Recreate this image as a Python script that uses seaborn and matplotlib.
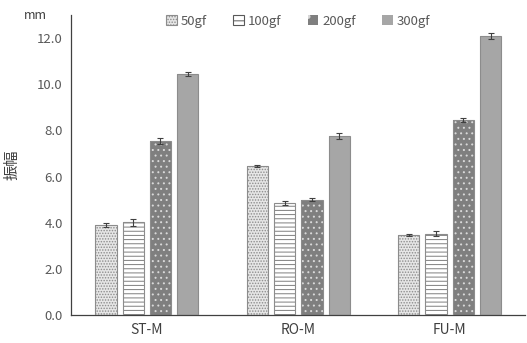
import pandas as pd
import numpy as np
import matplotlib
matplotlib.use('Agg')
import matplotlib.pyplot as plt
import seaborn as sns
from matplotlib.patches import Rectangle

# data
samples = ['ST-M', 'RO-M', 'FU-M']
loads = ['50gf', '100gf', '200gf', '300gf']
amp_50 = [3.90, 6.45, 3.45]
amp_100 = [4.02, 4.85, 3.52]
amp_200 = [7.55, 5.00, 8.45]
amp_300 = [10.45, 7.75, 12.10]
err_50 = [0.08, 0.05, 0.05]
err_100 = [0.15, 0.10, 0.10]
err_200 = [0.12, 0.08, 0.10]
err_300 = [0.10, 0.13, 0.12]

values = [amp_50, amp_100, amp_200, amp_300]
errors = [err_50, err_100, err_200, err_300]
df = pd.DataFrame({
    'sample': samples * 4,
    'load': [l for l in loads for _ in samples],
    'amp': sum(values, []),
    'err': sum(errors, []),
})

sns.set_style('white')
plt.rcParams['font.family'] = ['Noto Sans CJK JP', 'DejaVu Sans']
plt.rcParams['hatch.linewidth'] = 0.7

faces = ['#e6e6e6', '#ffffff', '#7f7f7f', '#a6a6a6']
hatch_cols = ['#8c8c8c', '#7f7f7f', '#d9d9d9', '#a6a6a6']
hatches = ['......', '----', '...', '']

fig = plt.figure(figsize=(5.27, 3.43), dpi=100)
ax = fig.add_axes([0.135, 0.082, 0.862, 0.874])

sns.barplot(data=df, x='sample', y='amp', hue='load', order=samples,
            hue_order=loads, errorbar=None, width=0.72, gap=0.22,
            palette=faces, ax=ax)

# style each bar: hatch + outline, then error bar
bar_groups = list(ax.containers)
for i, cont in enumerate(bar_groups):
    for j, bar in enumerate(cont.patches):
        bar.set_facecolor(faces[i])
        bar.set_hatch(hatches[i])
        bar.set_edgecolor(hatch_cols[i])
        bar.set_linewidth(0)
        x, y = bar.get_x(), bar.get_y()
        w, h = bar.get_width(), bar.get_height()
        ax.add_patch(Rectangle((x, y), w, h, fill=False,
                               edgecolor='#8c8c8c', linewidth=0.8, zorder=3))
        ax.errorbar(x + w / 2, h, yerr=errors[i][j], fmt='none',
                    ecolor='#404040', elinewidth=0.8, capsize=2.5,
                    capthick=0.8, zorder=4)

ax.set_ylim(0, 13)
ax.set_xlim(-0.5, 2.5)
ax.set_yticks(np.arange(0, 13, 2.0))
ax.set_yticklabels([f'{t:.1f}' for t in np.arange(0, 13, 2.0)])
ax.tick_params(axis='both', length=0, labelsize=9.5, colors='#595959', pad=6)
ax.tick_params(axis='x', colors='#404040', labelsize=10)
ax.set_xlabel('')
ax.set_ylabel('振幅', fontsize=11, color='#404040', labelpad=12)
sns.despine(ax=ax)
for s in ['left', 'bottom']:
    ax.spines[s].set_color('#404040')
    ax.spines[s].set_linewidth(0.9)

fig.text(0.045, 0.945, 'mm', fontsize=9, color='#404040')

handles, labels = ax.get_legend_handles_labels()
leg_hatch = ['......', '--', '.', '']
leg_edge = ['#8c8c8c', '#595959', '#d9d9d9', '#a6a6a6']
for i, h in enumerate(handles):
    h.set_facecolor(faces[i])
    h.set_hatch(leg_hatch[i])
    h.set_edgecolor(leg_edge[i])
    h.set_linewidth(0.8 if i < 2 else 0)
leg = ax.legend(handles, labels, loc='upper center', bbox_to_anchor=(0.5, 1.04),
                ncol=4, frameon=False, fontsize=9.5, handlelength=0.8,
                handleheight=0.8, handletextpad=0.3, columnspacing=2.0)
for t in leg.get_texts():
    t.set_color('#595959')

fig.savefig('out.png', dpi=100)
